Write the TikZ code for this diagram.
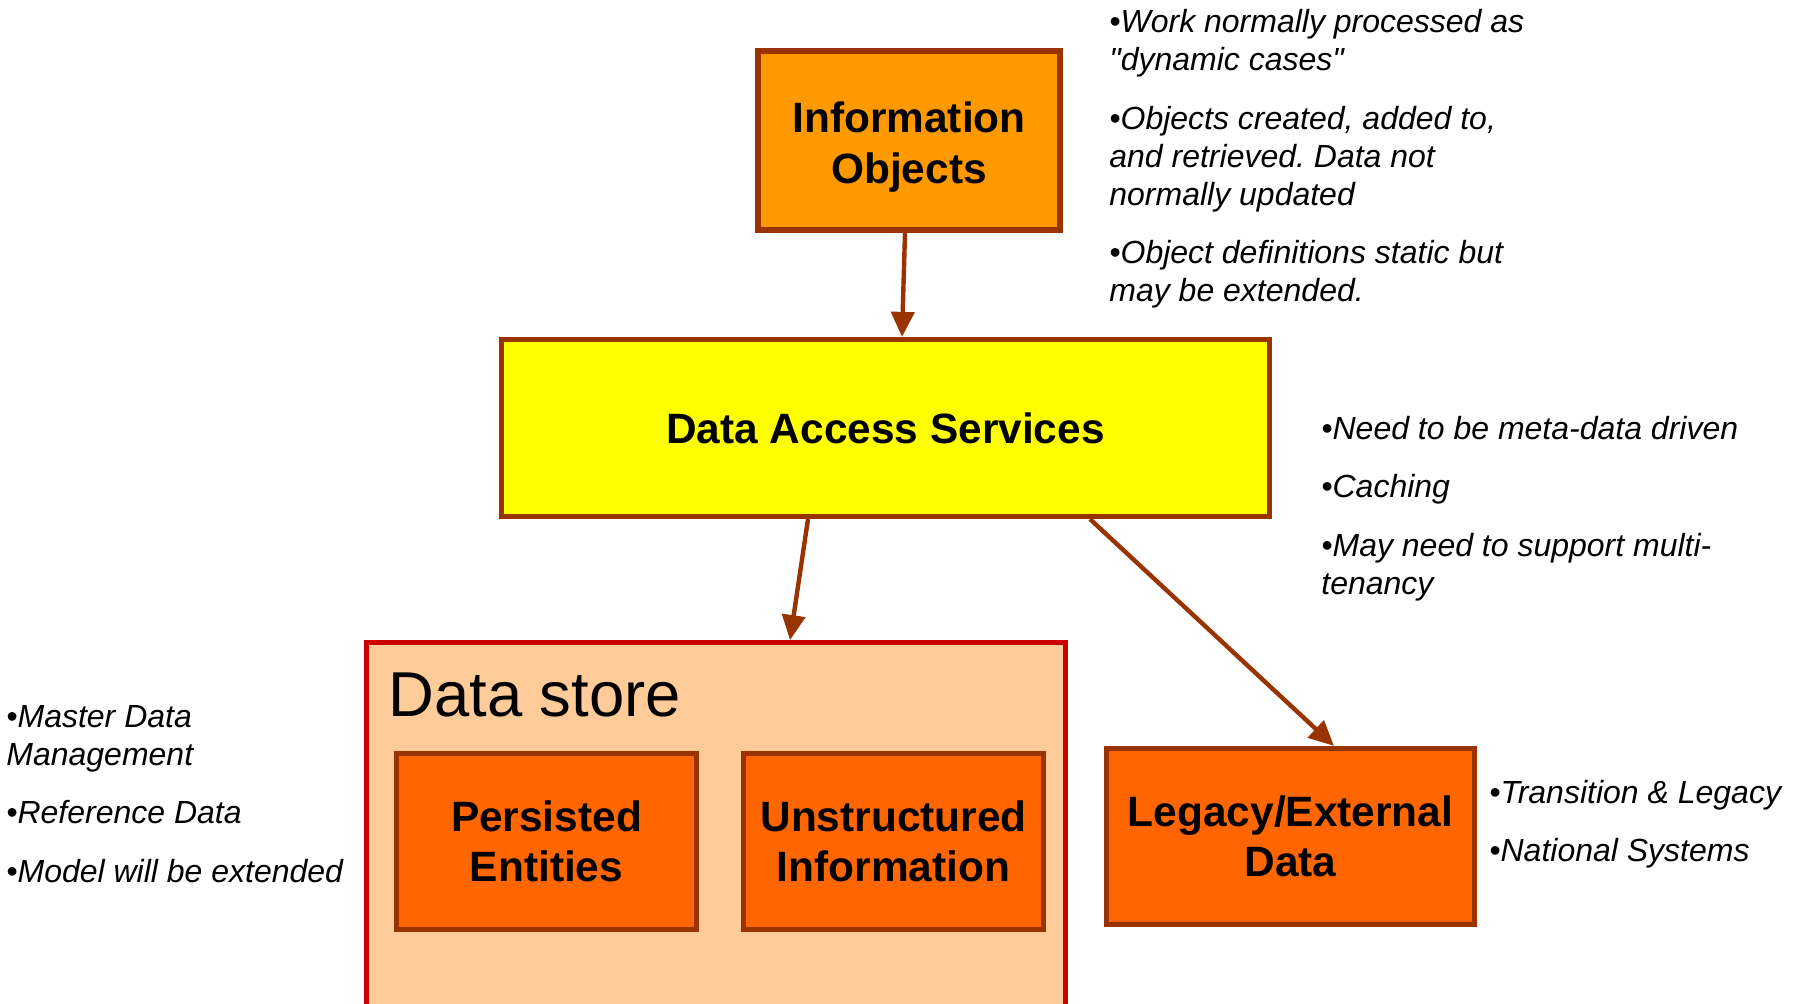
\documentclass[tikz,border=0pt]{standalone}
\usepackage{fontspec}
\setmainfont{Liberation Sans}[Ligatures=TeXOff]
\usetikzlibrary{arrows.meta}
\definecolor{brd}{HTML}{993300}
\definecolor{infofill}{HTML}{FF9900}
\definecolor{dasfill}{HTML}{FFFF00}
\definecolor{dsfill}{HTML}{FFCC99}
\definecolor{dsbrd}{HTML}{CC0000}
\definecolor{boxfill}{HTML}{FF6600}
\newcommand\bxfont{\fontsize{21.2}{25.2}\selectfont\bfseries}
\newcommand\ntfont{\fontsize{16}{19}\selectfont\itshape\frenchspacing}
\begin{document}
\begin{tikzpicture}[x=0.5pt,y=-0.5pt,
  box/.style={draw=brd, line width=2.6pt, inner sep=0pt, align=center, font=\bxfont},
  note/.style={anchor=base west, inner sep=0pt, align=left, font=\ntfont},
  conn/.style={draw=brd, line width=2.2pt, -{Triangle[length=12.5pt,width=11.5pt]}}]
\useasboundingbox (0,0) rectangle (1799,1004);
\fill[white] (0,0) rectangle (1799,1004);
\clip (0,0) rectangle (1799,1004);

\node[box, fill=infofill, minimum width=151pt, minimum height=89.5pt] (info) at (909,140.5) {\\[-3.2pt]Information\\Objects};
\node[box, fill=dasfill, minimum width=384pt, minimum height=88.5pt] (das) at (885.5,428) {Data Access Services};
\node[draw=dsbrd, fill=dsfill, line width=2.4pt, inner sep=0pt, minimum width=349.5pt, minimum height=193.75pt] (ds) at (716,836.25) {};
\node[anchor=base west, inner sep=0pt, font=\fontsize{31.7}{38}\selectfont] (dslabel) at (388,717) {Data store};
\node[box, fill=boxfill, minimum width=150pt, minimum height=88pt] (pers) at (546.5,841.5) {Persisted\\Entities};
\node[box, fill=boxfill, minimum width=150pt, minimum height=88pt] (unstr) at (893.5,841.5) {Unstructured\\Information};
\node[box, fill=boxfill, minimum width=184pt, minimum height=88pt] (leg) at (1290.5,836.5) {Legacy/External\\Data};

\draw[conn] ([xshift=-2pt]info.south) -- ([xshift=8.25pt]das.north);
\draw[conn] ([xshift=-38.75pt]das.south) -- ([xshift=37pt]ds.north);
\draw[conn] ([xshift=102.25pt]das.south) -- ([xshift=21.75pt]leg.north);

\node[note] (n1) at (1109,301.7) {•Work normally processed as\\"dynamic cases"\\[10.25pt]•Objects created, added to,\\and retrieved. Data not\\normally updated\\[10.25pt]•Object definitions static but\\may be extended.};
\node[note] (n2) at (1321,594.3) {•Need to be meta-data driven\\[10.25pt]•Caching\\[10.25pt]•May need to support multi-\\tenancy};
\node[note] (n3) at (6,882) {•Master Data\\Management\\[10.25pt]•Reference Data\\[10.25pt]•Model will be extended};
\node[note] (n4) at (1489,861.6) {•Transition \& Legacy\\[10.25pt]•National Systems};
\end{tikzpicture}
\end{document}
